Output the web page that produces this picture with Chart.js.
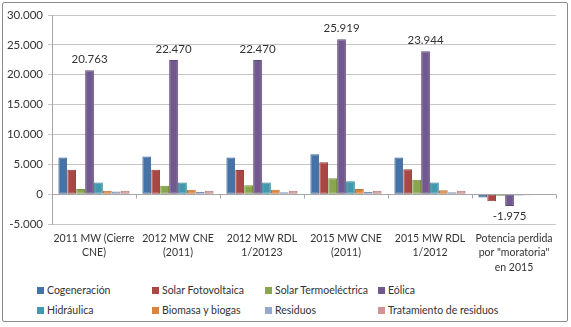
<!DOCTYPE html>
<html lang="es">
<head>
<meta charset="UTF-8">
<title>Potencia instalada por tecnología</title>
<script src="https://cdn.jsdelivr.net/npm/chart.js"></script>
<style>
    body { margin: 0; padding: 0; background: #fff; }
    #wrap { position: relative; width: 571px; height: 327px; font-family: Lato, sans-serif; }
    #frame {
        position: absolute; left: 2px; top: 2px; width: 564px; height: 318px;
        border: 1px solid #8c8c8c; border-radius: 2px;
    }
    #chart { position: absolute; left: 0; top: 0; }
    #legend {
        position: absolute; left: 37px; top: 280px;
        display: grid; grid-template-columns: 115px 113px 113px 160px;
        grid-auto-rows: 20px; font-size: 10.5px; color: #333;
    }
    #legend span.item { display: flex; align-items: center; white-space: nowrap; }
    #legend i { display: inline-block; width: 7px; height: 7px; margin-right: 3px; }
</style>
</head>
<body>
<div id="wrap">
    <canvas id="chart" width="571" height="280"></canvas>
    <div id="legend"></div>
    <div id="frame"></div>
</div>
<script>
// categorías (escenarios)
const categories = [
    ['2011 MW (Cierre', 'CNE)'],
    ['2012 MW CNE', '(2011)'],
    ['2012 MW RDL', '1/20123'],
    ['2015 MW CNE', '(2011)'],
    ['2015 MW RDL', '1/2012'],
    ['Potencia perdida', 'por "moratoria"', 'en 2015']
];

const seriesNames = ['Cogeneración', 'Solar Fotovoltaica', 'Solar Termoeléctrica', 'Eólica',
    'Hidráulica', 'Biomasa y biogas', 'Residuos', 'Tratamiento de residuos'];

// MW por tecnología
const cogeneracion   = [6150, 6300, 6150, 6700, 6150, -550];
const fotovoltaica   = [4100, 4100, 4050, 5350, 4150, -1200];
const termoelectrica = [860, 1400, 1500, 2650, 2400, -250];
const eolica         = [20763, 22470, 22470, 25919, 23944, -1975];
const hidraulica     = [1930, 1930, 1930, 2150, 1930, -220];
const biomasa        = [560, 750, 750, 850, 650, -200];
const residuos       = [450, 350, 300, 400, 300, -100];
const tratamiento    = [560, 550, 550, 550, 550, 0];

const yTicks = [-5000, 0, 5000, 10000, 15000, 20000, 25000, 30000];

const colors = ['#4572A7', '#AA4643', '#89A54E', '#71588F', '#4198AF', '#DB843D', '#93A9CF', '#D19392'];
const borders = ['#3a6291', '#923b38', '#75903f', '#5f4a79', '#357f93', '#bd7033', '#7d91b3', '#b67d7c'];

const allSeries = [cogeneracion, fotovoltaica, termoelectrica, eolica, hidraulica, biomasa, residuos, tratamiento];

function fmt(v) {
    const s = String(Math.abs(v)).replace(/\B(?=(\d{3})+(?!\d))/g, '.');
    return (v < 0 ? '-' : '') + s;
}

// etiquetas de valor sólo para la serie Eólica
const eolicaLabels = {
    id: 'eolicaLabels',
    afterDatasetsDraw(chart) {
        const ctx = chart.ctx;
        const meta = chart.getDatasetMeta(3);
        ctx.save();
        ctx.font = '11.5px Lato';
        ctx.fillStyle = '#333';
        ctx.textAlign = 'center';
        meta.data.forEach((bar, i) => {
            const v = eolica[i];
            if (v >= 0) {
                ctx.textBaseline = 'bottom';
                ctx.fillText(fmt(v), bar.x, bar.y - 5);
            } else {
                ctx.textBaseline = 'top';
                ctx.fillText(fmt(v), bar.x, bar.y + 5);
            }
        });
        ctx.restore();
    }
};

// marcas de separación de categorías sobre la línea de cero
const zeroTicks = {
    id: 'zeroTicks',
    afterDraw(chart) {
        const ctx = chart.ctx;
        const x = chart.scales.x, y = chart.scales.y;
        const y0 = Math.round(y.getPixelForValue(0)) + 0.5;
        const step = (x.right - x.left) / categories.length;
        ctx.save();
        ctx.strokeStyle = '#a6a6a6';
        ctx.lineWidth = 1;
        ctx.beginPath();
        for (let i = 1; i <= categories.length; i++) {
            const px = Math.round(x.left + i * step) + 0.5;
            ctx.moveTo(px, y0);
            ctx.lineTo(px, y0 + 4);
        }
        ctx.moveTo(x.left, y0);
        ctx.lineTo(x.right, y0);
        ctx.stroke();
        ctx.restore();
    }
};

const ctx = document.getElementById('chart').getContext('2d');
const chart = new Chart(ctx, {
    type: 'bar',
    data: {
        labels: categories,
        datasets: allSeries.map((d, i) => ({
            label: seriesNames[i],
            data: d,
            backgroundColor: colors[i],
            borderColor: borders[i],
            borderWidth: 1,
            borderSkipped: false,
            categoryPercentage: 0.85,
            barPercentage: 0.98
        }))
    },
    options: {
        responsive: false,
        animation: false,
        layout: { padding: { left: 0, right: 15, top: 15, bottom: 0 } },
        plugins: {
            legend: { display: false },
            tooltip: { enabled: false }
        },
        scales: {
            x: {
                grid: { display: false },
                border: { display: false },
                ticks: {
                    color: '#333',
                    font: { family: 'Lato', size: 10.5, lineHeight: 1.4 },
                    padding: -1,
                    maxRotation: 0,
                    autoSkip: false
                },
                afterFit(scale) { scale.height = 56; }
            },
            y: {
                min: -5000,
                max: 30000,
                afterBuildTicks(scale) { scale.ticks = yTicks.map(v => ({ value: v })); },
                grid: { color: '#c6c6c6', tickLength: 4, drawTicks: true },
                border: { display: true, color: '#a6a6a6' },
                ticks: {
                    color: '#333',
                    font: { family: 'Lato', size: 11.5 },
                    padding: 5,
                    callback: v => fmt(v)
                },
                afterFit(scale) { scale.width = 52; }
            }
        }
    },
    plugins: [eolicaLabels, zeroTicks]
});

// leyenda en cuatro columnas
const legend = document.getElementById('legend');
seriesNames.forEach((name, i) => {
    const item = document.createElement('span');
    item.className = 'item';
    const sw = document.createElement('i');
    sw.style.background = colors[i];
    item.appendChild(sw);
    item.appendChild(document.createTextNode(name));
    legend.appendChild(item);
});
</script>
</body>
</html>
